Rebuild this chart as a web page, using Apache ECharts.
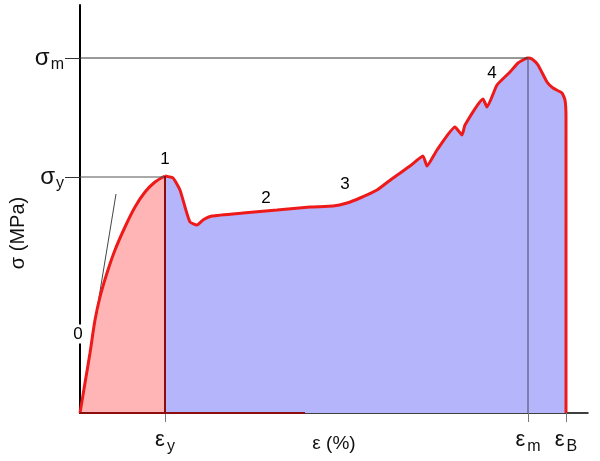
<!DOCTYPE html>
<html>
<head>
<meta charset="utf-8">
<script src="https://cdn.jsdelivr.net/npm/echarts@6/dist/echarts.min.js"></script>
<style>
  html, body { margin: 0; padding: 0; background: #fff; }
  #main { width: 600px; height: 461px; }
</style>
</head>
<body>
<div id="main"></div>
<script>
// curve (arbitrary units, strain / stress)
var strain = [0, 5, 10, 15, 20, 27, 35, 45, 55, 65, 75, 85,
  93, 100, 105, 110, 117, 123, 132, 163, 197, 230, 253, 267, 280, 297, 313, 330,
  343, 347, 357, 375, 382, 385, 403, 407, 417, 430, 438, 445, 448, 452, 458, 467,
  473, 482, 485, 486, 486];
var stress = [0, 30, 60, 93, 116, 140, 163, 186, 206, 221, 231, 237,
  235, 223, 206, 191, 188, 193, 197, 200, 203, 206, 207, 210, 215, 223, 235, 247,
  257, 247, 263, 286, 278, 288, 314, 306, 328, 341, 350, 354, 355, 354, 348, 331,
  325, 320, 313, 296, 0];
var yieldIndex = 11;

// marked values
var epsY = 85, epsM = 448, epsB = 486;
var sigY = 236, sigM = 355;
var xTicks = [epsY, epsM, epsB];
var xTickNames = ['y', 'm', 'B'];
var yTicks = [sigY, sigM];
var yTickNames = ['y', 'm'];

// point numbers on the curve
var pointNames = ['0', '1', '2', '3', '4'];
var pointX = [-2, 85, 186, 265, 412];
var pointY = [79, 254, 215, 229, 340];

// elastic tangent
var tangentX = [0, 36];
var tangentY = [0, 219];

var elastic = [], plastic = [];
for (var i = 0; i < strain.length; i++) {
  if (i <= yieldIndex) elastic.push([strain[i], stress[i]]);
  if (i >= yieldIndex) plastic.push([strain[i], stress[i]]);
}
var labelPts = [];
for (var j = 0; j < pointNames.length; j++) {
  labelPts.push([pointX[j], pointY[j], pointNames[j]]);
}

var font = 'Liberation Sans, Arial, sans-serif';
var myChart = echarts.init(document.getElementById('main'));
myChart.setOption({
  animation: false,
  grid: { left: 80, right: 12, top: 5, bottom: 48, outerBoundsMode: 'none', containLabel: false },
  xAxis: {
    type: 'value', min: 0, max: 508,
    splitLine: { show: false },
    axisLine: { lineStyle: { color: '#000', width: 1.5 } },
    axisTick: { customValues: xTicks, length: 9, lineStyle: { color: '#777' } },
    axisLabel: {
      customValues: xTicks, margin: 12,
      formatter: function (v) {
        return '{e|ε}{sub|' + xTickNames[xTicks.indexOf(v)] + '}';
      },
      rich: {
        e: { fontSize: 22, fontFamily: font, color: '#111' },
        sub: { fontSize: 16, fontFamily: font, color: '#111', padding: [14, 0, 0, 2] }
      }
    },
    name: 'ε (%)', nameLocation: 'middle', nameGap: 21, nameMoveOverlap: false,
    nameTextStyle: { fontSize: 19, fontFamily: font, color: '#111' }
  },
  yAxis: {
    type: 'value', min: 0, max: 408,
    splitLine: { show: false },
    axisLine: { lineStyle: { color: '#000', width: 2 } },
    axisTick: { customValues: yTicks, length: 15, lineStyle: { color: '#333' } },
    axisLabel: {
      customValues: yTicks, margin: 16,
      formatter: function (v) {
        return '{s|σ}{sub|' + yTickNames[yTicks.indexOf(v)] + '}';
      },
      rich: {
        s: { fontSize: 24, fontFamily: font, color: '#111' },
        sub: { fontSize: 16, fontFamily: font, color: '#111', padding: [14, 0, 0, 1] }
      }
    }
  },
  graphic: [{
    type: 'text', x: 18, y: 233, rotation: Math.PI / 2,
    style: { text: 'σ (MPa)', fontSize: 20, fontFamily: font, fill: '#111',
      align: 'center', verticalAlign: 'middle' }
  }],
  series: [
    {
      type: 'line', data: elastic, showSymbol: false, smooth: 0.3, z: 2,
      lineStyle: { color: '#ee1a1a', width: 3 },
      areaStyle: { color: '#ffb4b6', opacity: 1 }
    },
    {
      type: 'line', data: plastic, showSymbol: false, smooth: 0.15, z: 2,
      lineStyle: { color: '#ee1a1a', width: 3 },
      areaStyle: { color: '#b4b5fa', opacity: 1 }
    },
    {
      type: 'line', showSymbol: false, z: 1,
      data: [[tangentX[0], tangentY[0]], [tangentX[1], tangentY[1]]],
      lineStyle: { color: '#444', width: 1 }
    },
    {
      type: 'line', showSymbol: false, z: 3,
      data: [[0, sigY], [epsY, sigY]],
      lineStyle: { color: '#555', width: 1 }
    },
    {
      type: 'line', showSymbol: false, z: 3,
      data: [[epsY, 0], [epsY, sigY + 1]],
      lineStyle: { color: '#8b0d0d', width: 2 }
    },
    {
      type: 'line', showSymbol: false, z: 3,
      data: [[0, sigM], [epsM, sigM]],
      lineStyle: { color: '#333', width: 1 }
    },
    {
      type: 'line', showSymbol: false, z: 3,
      data: [[epsM, 0], [epsM, sigM]],
      lineStyle: { color: '#5a5a78', width: 1.2 }
    },
    {
      type: 'line', showSymbol: false, z: 3,
      data: [[0, 0], [225, 0]],
      lineStyle: { color: '#8b0d0d', width: 2 }
    },
    {
      type: 'scatter', data: labelPts, symbolSize: 0, clip: false, z: 5,
      itemStyle: { opacity: 1 },
      label: {
        show: true, position: 'inside', fontSize: 17, fontFamily: font, color: '#000',
        backgroundColor: '#fff', padding: [1, 0],
        formatter: function (p) { return p.data[2]; }
      }
    }
  ]
});
</script>
</body>
</html>
